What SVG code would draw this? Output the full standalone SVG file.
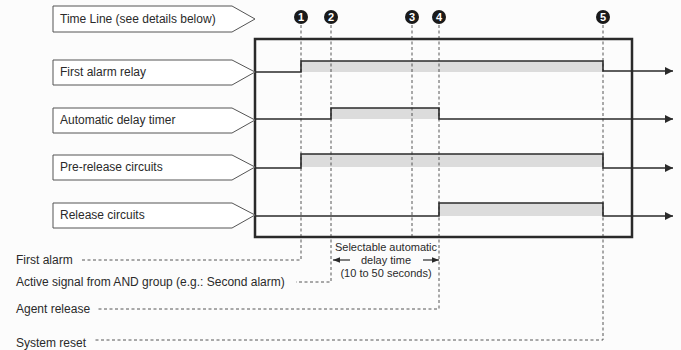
<svg xmlns="http://www.w3.org/2000/svg" width="681" height="350" viewBox="0 0 681 350">
<defs>
<style>
text{font-family:"Liberation Sans",Arial,sans-serif;fill:#2a2a2a;font-size:12px}
.lbl{fill:#fff;stroke:#555;stroke-width:1}
.sig{fill:none;stroke:#2a2a2a;stroke-width:1.6}
.band{fill:#dcdcdc}
.dash{fill:none;stroke:#444;stroke-width:0.9;stroke-dasharray:3,2.5}
.mk{fill:#1a1a1a}
.mkt{fill:#fff;font-size:11px;font-weight:bold;text-anchor:middle}
.small{font-size:11px;text-anchor:middle}
</style>
<marker id="ah" viewBox="0 0 10 10" refX="10" refY="5" markerWidth="8" markerHeight="8" markerUnits="userSpaceOnUse" orient="auto"><path d="M0,0 L10,5 L0,10 Z" fill="#2a2a2a"/></marker>
<marker id="ah2" viewBox="0 0 10 10" refX="10" refY="5" markerWidth="7" markerHeight="7" markerUnits="userSpaceOnUse" orient="auto"><path d="M0,1 L10,5 L0,9 Z" fill="#2a2a2a"/></marker>
</defs>
<rect width="681" height="350" fill="#fcfcfc"/>

<g id="bands">
<rect class="band" x="301" y="61" width="302" height="11"/>
<rect class="band" x="331" y="108" width="108" height="11"/>
<rect class="band" x="301" y="154" width="302" height="13"/>
<rect class="band" x="439" y="203" width="164" height="13"/>
</g>

<g id="connectors">
<path class="dash" d="M301,25 V260 H82"/>
<path class="dash" d="M331,25 V282 H296"/>
<path class="dash" d="M412,25 V237"/>
<path class="dash" d="M439,25 V309 H98"/>
<path class="dash" d="M603,25 V340 H94"/>
</g>

<g id="mainbox">
<rect x="255" y="39" width="377" height="198" fill="none" stroke="#2a2a2a" stroke-width="2.5"/>
</g>

<g id="signals">
<path class="sig" d="M255,72 H301 V61 H603 V71 H673" marker-end="url(#ah)"/>
<path class="sig" d="M255,119 H331 V108 H439 V119 H673" marker-end="url(#ah)"/>
<path class="sig" d="M255,168 H301 V154 H603 V168 H673" marker-end="url(#ah)"/>
<path class="sig" d="M255,216 H439 V203 H603 V216 H673" marker-end="url(#ah)"/>
</g>

<g id="node-timeline">
<path class="lbl" d="M53,6 H232 L255,19 L232,32 H53 Z"/>
<text x="60" y="23">Time Line (see details below)</text>
</g>
<g id="node-first-alarm-relay">
<path class="lbl" d="M53,60 H232 L255,72 L232,85 H53 Z"/>
<text x="60" y="76">First alarm relay</text>
</g>
<g id="node-auto-delay">
<path class="lbl" d="M53,108 H232 L255,120 L232,133 H53 Z"/>
<text x="60" y="124">Automatic delay timer</text>
</g>
<g id="node-pre-release">
<path class="lbl" d="M53,155 H232 L255,167 L232,180 H53 Z"/>
<text x="60" y="171">Pre-release circuits</text>
</g>
<g id="node-release">
<path class="lbl" d="M53,203 H232 L255,215 L232,228 H53 Z"/>
<text x="60" y="219">Release circuits</text>
</g>

<g id="marker-1"><circle class="mk" cx="301" cy="17" r="7"/><text class="mkt" x="301" y="21">1</text></g>
<g id="marker-2"><circle class="mk" cx="331" cy="17" r="7"/><text class="mkt" x="331" y="21">2</text></g>
<g id="marker-3"><circle class="mk" cx="412" cy="17" r="7"/><text class="mkt" x="412" y="21">3</text></g>
<g id="marker-4"><circle class="mk" cx="439" cy="17" r="7"/><text class="mkt" x="439" y="21">4</text></g>
<g id="marker-5"><circle class="mk" cx="603" cy="17" r="7"/><text class="mkt" x="603" y="21">5</text></g>

<g id="events">
<text x="16" y="264">First alarm</text>
<text x="16" y="286">Active signal from AND group (e.g.: Second alarm)</text>
<text x="16" y="313">Agent release</text>
<text x="16" y="347">System reset</text>
</g>

<g id="delay-note">
<text class="small" x="386" y="251">Selectable automatic</text>
<text class="small" x="386" y="264">delay time</text>
<text class="small" x="386" y="277">(10 to 50 seconds)</text>
<path d="M350,260 H333" stroke="#2a2a2a" stroke-width="1.2" marker-end="url(#ah2)"/>
<path d="M423,260 H439" stroke="#2a2a2a" stroke-width="1.2" marker-end="url(#ah2)"/>
</g>
</svg>
